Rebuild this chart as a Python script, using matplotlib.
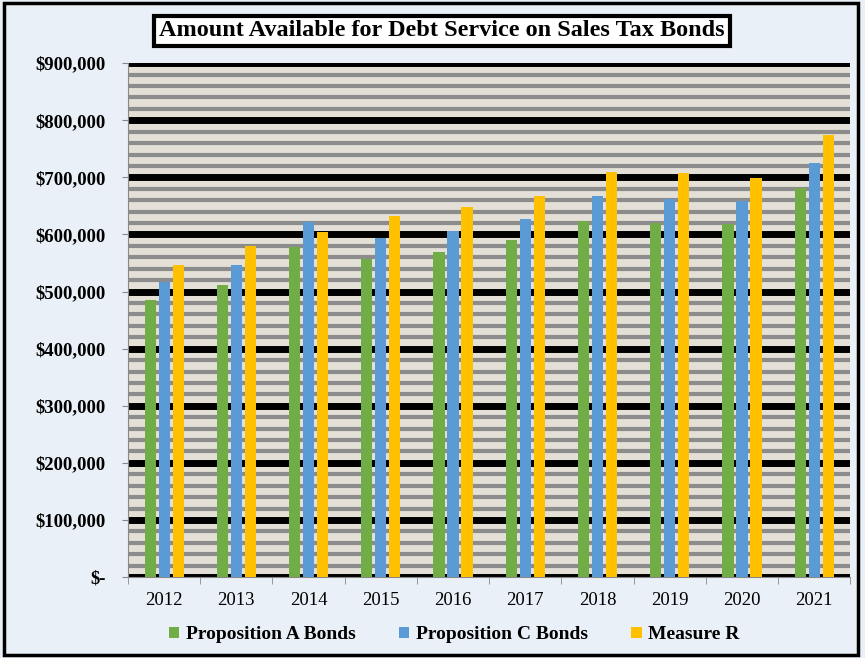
import numpy as np
import matplotlib.pyplot as plt
from matplotlib.patches import Rectangle
from matplotlib.ticker import MultipleLocator, FuncFormatter

years = ['2012', '2013', '2014', '2015', '2016', '2017', '2018', '2019', '2020', '2021']
prop_a = [486000, 512000, 578000, 557000, 569000, 590000, 624000, 620000, 618000, 682000]
prop_c = [517000, 547000, 622000, 594000, 606000, 627000, 668000, 662000, 659000, 726000]
measure_r = [547000, 580000, 604000, 632000, 648000, 667000, 710000, 707000, 699000, 774000]

series_names = ['Proposition A Bonds', 'Proposition C Bonds', 'Measure R']
colors = ['#70AD47', '#5B9BD5', '#FFC000']

serif = ['Liberation Serif', 'DejaVu Serif']

fig = plt.figure(figsize=(8.65, 6.58), dpi=100)
fig.patch.set_facecolor('#eaf0f7')
ax = fig.add_axes([0.148, 0.123, 0.835, 0.781])
ax.set_facecolor('#e4e0d8')

x = np.arange(len(years))
w = 0.155
off = 0.194
for i, vals in enumerate([prop_a, prop_c, measure_r]):
    ax.bar(x + (i - 1) * off, vals, width=w, color=colors[i], label=series_names[i], zorder=3)

ax.set_xlim(-0.5, len(years) - 0.5)
ax.set_ylim(0, 900000)

ax.yaxis.set_major_locator(MultipleLocator(100000))
ax.yaxis.set_minor_locator(MultipleLocator(20000))
ax.grid(which='minor', axis='y', color='#8c8c8c', lw=3, zorder=1)
ax.grid(which='major', axis='y', color='black', lw=5, zorder=2)

def money(v, pos):
    if v == 0:
        return '$-'
    return '${:,.0f}'.format(v)

ax.yaxis.set_major_formatter(FuncFormatter(money))
ax.set_xticks(x)
ax.set_xticklabels(years)
ax.set_xticks(np.arange(-0.5, len(years)), minor=True)
ax.tick_params(axis='x', which='major', length=0, pad=11)
ax.tick_params(axis='x', which='minor', length=5, color='#888888')
ax.tick_params(axis='y', which='major', length=4, color='#888888', pad=12)
ax.tick_params(axis='y', which='minor', length=0)

for lab in ax.get_yticklabels():
    lab.set_family(serif)
    lab.set_fontweight('bold')
    lab.set_fontsize(13.5)
for lab in ax.get_xticklabels():
    lab.set_family(serif)
    lab.set_fontsize(13.5)

for s in ['top', 'right']:
    ax.spines[s].set_visible(False)
ax.spines['left'].set_color('#888888')
ax.spines['bottom'].set_color('#888888')

fig.text(0.511, 0.953, 'Amount Available for Debt Service on Sales Tax Bonds',
         ha='center', va='center', family=serif, fontweight='bold', fontsize=17.5,
         bbox=dict(boxstyle='square,pad=0.2', facecolor='white', edgecolor='black', lw=3))

leg = fig.legend(loc='center', bbox_to_anchor=(0.525, 0.035), ncol=3, frameon=False,
                 prop={'family': serif, 'weight': 'bold', 'size': 14},
                 handlelength=0.55, handleheight=0.55, columnspacing=2.2, handletextpad=0.35)

fig.patches.append(Rectangle((0.005, 0.005), 0.987, 0.99, transform=fig.transFigure,
                             fill=False, edgecolor='black', lw=2.5))

fig.savefig('out.png', dpi=100, facecolor=fig.get_facecolor())
